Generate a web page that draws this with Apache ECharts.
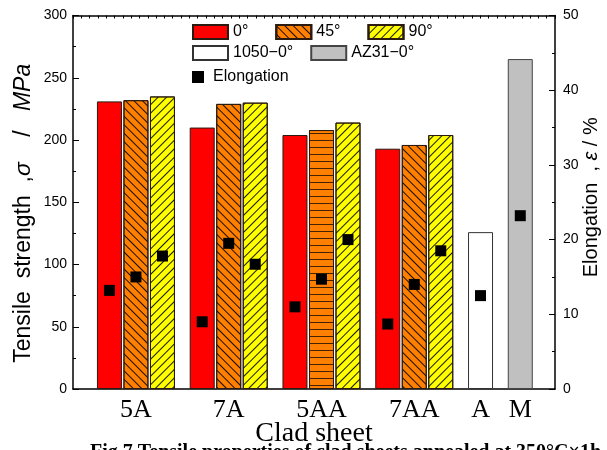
<!DOCTYPE html>
<html>
<head>
<meta charset="utf-8">
<script src="https://cdn.jsdelivr.net/npm/echarts@6/dist/echarts.min.js"></script>
<style>html,body{margin:0;padding:0;background:#fff}#c{width:607px;height:450px}</style>
</head>
<body>
<div id="c"></div>
<script>
// ---- data ----
const categories = ['5A', '7A', '5AA', '7AA', 'A', 'M'];
const seriesNames = ['0°', '45°', '90°', '1050−0°', 'AZ31−0°', 'Elongation'];
const tensile0 = [231, 210, 204, 193];
const tensile45 = [232, 229, 208, 196];
const tensile90 = [235, 230, 214, 204];
const tensile1050 = [126];
const tensileAZ31 = [265];
const elong0 = [13.2, 9.0, 11.0, 8.7];
const elong45 = [15.0, 19.5, 14.7, 14.0];
const elong90 = [17.8, 16.7, 20.0, 18.5];
const elong1050 = [12.5];
const elongAZ31 = [23.2];
const leftTicks = [0, 50, 100, 150, 200, 250, 300];
const rightTicks = [0, 10, 20, 30, 40, 50];

// ---- layout helpers (slot positions on a hidden value axis) ----
const groupStep = 7, barStep = 2;
function groupCenter(i) { return i < 4 ? i * groupStep + 2 : (i === 4 ? 28 : 31); }
const catCenters = categories.map((c, i) => groupCenter(i));
const pos = (gi, k) => groupCenter(gi) + (k - 1) * barStep;

const hatch = (rot) => ({ symbol: 'rect', symbolSize: 1, dashArrayX: [1, 0], dashArrayY: [1, 5], rotation: rot, color: 'rgba(0,0,0,0.9)' });
const stripe = { symbol: 'rect', symbolSize: 1, dashArrayX: [1, 0], dashArrayY: [1, 6], rotation: 0, color: 'rgba(60,30,0,0.95)' };
const border = { borderColor: '#2a1a10', borderWidth: 1 };

const barCommon = { type: 'bar', barWidth: 25, barGap: '-100%', xAxisIndex: 0, yAxisIndex: 0 };

const s0 = Object.assign({}, barCommon, {
  name: seriesNames[0],
  itemStyle: Object.assign({ color: '#ff0000' }, border),
  data: tensile0.map((v, i) => [pos(i, 0), v])
});
const s45 = Object.assign({}, barCommon, {
  name: seriesNames[1],
  itemStyle: Object.assign({ color: '#ff8000', decal: hatch(Math.PI / 4) }, border),
  data: tensile45.map((v, i) => i === 2
    ? { value: [pos(i, 1), v], itemStyle: { decal: stripe } }
    : [pos(i, 1), v])
});
const s90 = Object.assign({}, barCommon, {
  name: seriesNames[2],
  itemStyle: Object.assign({ color: '#ffff00', decal: hatch(-Math.PI / 4) }, border),
  data: tensile90.map((v, i) => [pos(i, 2), v])
});
const sA = Object.assign({}, barCommon, {
  name: seriesNames[3],
  itemStyle: { color: '#ffffff', borderColor: '#333', borderWidth: 1 },
  data: tensile1050.map(v => [catCenters[4], v])
});
const sM = Object.assign({}, barCommon, {
  name: seriesNames[4],
  itemStyle: { color: '#c0c0c0', borderColor: '#444', borderWidth: 1 },
  data: tensileAZ31.map(v => [catCenters[5], v])
});
const elongData = []
  .concat(elong0.map((v, i) => [pos(i, 0), v]))
  .concat(elong45.map((v, i) => [pos(i, 1), v]))
  .concat(elong90.map((v, i) => [pos(i, 2), v]))
  .concat(elong1050.map(v => [catCenters[4], v]))
  .concat(elongAZ31.map(v => [catCenters[5], v]));
const sE = {
  type: 'scatter', name: seriesNames[5], xAxisIndex: 0, yAxisIndex: 1,
  symbol: 'rect', symbolSize: 11, itemStyle: { color: '#000', opacity: 1 }, z: 5,
  data: elongData
};

const sans = 'Liberation Sans, Arial, sans-serif';
const serif = 'Liberation Serif, Times New Roman, serif';
const legendText = { fontFamily: sans, fontSize: 16, color: '#000' };
const richFor = (fs) => ({
  n: { fontFamily: sans, fontSize: fs, color: '#000' },
  i: { fontFamily: sans, fontSize: fs, fontStyle: 'italic', color: '#000' }
});

const chart = echarts.init(document.getElementById('c'), null, { renderer: 'canvas' });
chart.setOption({
  animation: false,
  backgroundColor: '#fff',
  grid: { left: 73, right: 52, top: 15.5, bottom: 61, containLabel: false, outerBoundsMode: 'none' },
  legend: [
    { data: seriesNames.slice(0, 3), left: 187, top: 19, icon: 'rect', itemWidth: 35, itemHeight: 14, itemGap: 27, textStyle: legendText, selectedMode: false },
    { data: seriesNames.slice(3, 5), left: 187, top: 40, icon: 'rect', itemWidth: 35, itemHeight: 14, itemGap: 17, textStyle: legendText, selectedMode: false },
    { data: seriesNames.slice(5), left: 187, top: 64, icon: 'rect', itemWidth: 12, itemHeight: 12, textStyle: Object.assign({ padding: [0, 0, 0, 4] }, legendText), selectedMode: false }
  ],
  xAxis: [
    {
      type: 'value', min: -2.75, max: 33.62, position: 'bottom',
      axisLine: { show: true, onZero: false, lineStyle: { color: '#000', width: 1.5 } },
      axisTick: { show: false },
      splitLine: { show: false },
      axisLabel: {
        customValues: catCenters,
        formatter: (v) => { const i = catCenters.indexOf(v); return i >= 0 ? categories[i] : ''; },
        fontFamily: serif, fontSize: 26, color: '#000', margin: 8
      },
      name: 'Clad sheet', nameLocation: 'middle', nameGap: 31, nameMoveOverlap: false,
      nameTextStyle: { fontFamily: serif, fontSize: 28, color: '#000' }
    },
    {
      type: 'value', min: 0, max: 58, interval: 1, position: 'top',
      axisLine: { show: true, onZero: false, lineStyle: { color: '#000', width: 1.5 } },
      axisTick: { show: true, inside: true, length: 3, lineStyle: { color: '#000' } },
      axisLabel: { show: false }, splitLine: { show: false }
    }
  ],
  yAxis: [
    {
      type: 'value', min: leftTicks[0], max: leftTicks[leftTicks.length - 1], interval: 50, position: 'left',
      axisLine: { show: true, onZero: false, lineStyle: { color: '#000', width: 1.5 } },
      axisTick: { show: true, inside: true, length: 6, lineStyle: { color: '#000' } },
      minorTick: { show: true, splitNumber: 2, length: 3, lineStyle: { color: '#000' } },
      splitLine: { show: false },
      axisLabel: { fontFamily: sans, fontSize: 14, color: '#000', margin: 6 },
      name: '{n|Tensile  strength  ,}{i|σ}{n|    /   }{i|MPa}', nameLocation: 'middle', nameRotate: 90, nameGap: 38, nameMoveOverlap: false,
      nameTextStyle: { fontFamily: sans, fontSize: 23, color: '#000', padding: [0, 22, 0, 0], rich: richFor(23) }
    },
    {
      type: 'value', min: rightTicks[0], max: rightTicks[rightTicks.length - 1], interval: 10, position: 'right',
      axisLine: { show: true, onZero: false, lineStyle: { color: '#000', width: 1.5 } },
      axisTick: { show: true, inside: true, length: 6, lineStyle: { color: '#000' } },
      minorTick: { show: true, splitNumber: 2, length: 3, lineStyle: { color: '#000' } },
      splitLine: { show: false },
      axisLabel: { fontFamily: sans, fontSize: 14, color: '#000', margin: 8 },
      name: '{n|Elongation  , }{i|ε}{n| / %}', nameLocation: 'middle', nameRotate: 90, nameGap: 26, nameMoveOverlap: false,
      nameTextStyle: { fontFamily: sans, fontSize: 20, color: '#000', padding: [0, 0, 0, 10], rich: richFor(20) }
    }
  ],
  graphic: [
    { type: 'text', left: 90, top: 443, style: { text: 'Fig.7 Tensile properties of clad sheets annealed at 350°C×1h', font: 'bold 20px ' + serif, fill: '#000' } }
  ],
  series: [s0, s45, s90, sA, sM, sE]
});
</script>
</body>
</html>
